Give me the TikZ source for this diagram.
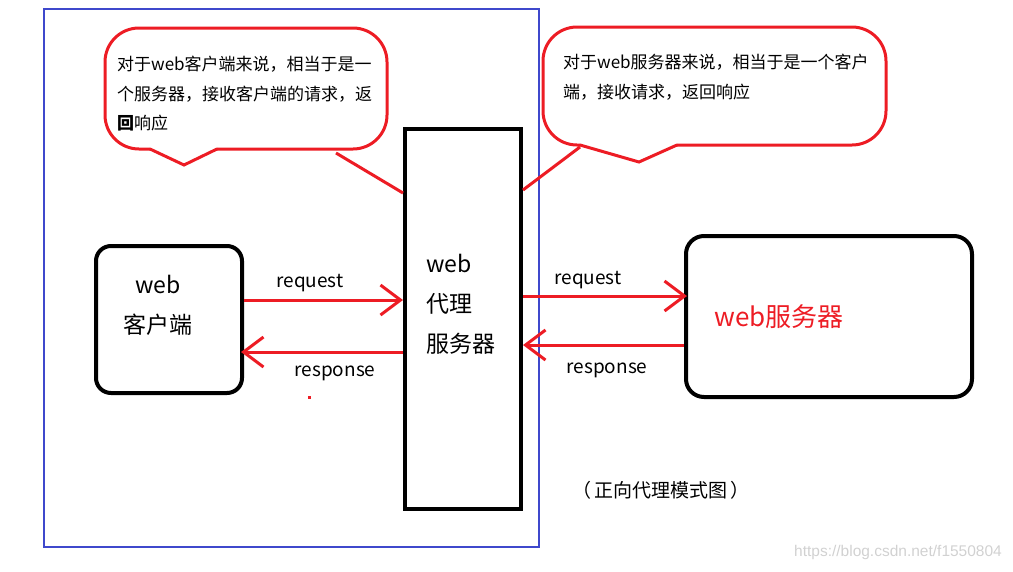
\documentclass[tikz,border=0pt]{standalone}
\usepackage{fontspec}
\setmainfont{Noto Sans CJK SC}
\newfontfamily\wmfont{Liberation Sans}
\usetikzlibrary{arrows.meta}
\definecolor{pred}{HTML}{ED1C24}
\definecolor{pblue}{HTML}{3F48CC}
\tikzset{
  blk/.style={draw=black,line width=4pt},
  bubble/.style={draw=pred,line width=3pt,line join=miter},
  tail/.style={draw=pred,line width=3pt,line join=miter,line cap=round},
  conn/.style={draw=pred,line width=3pt},
  flow/.style={conn,-{Straight Barb[length=20pt,width=30pt,line width=3pt]}},
  lbl/.style={font=\fontsize{19}{22}\selectfont,inner sep=0pt},
  btxt/.style={anchor=north west,inner sep=0pt,align=left,font=\fontsize{17}{29.5}\selectfont},
}
\begin{document}
\begin{tikzpicture}[x=1pt,y=-1pt]
\useasboundingbox (0,0) rectangle (1013,571);
% blue frame
\draw[pblue,line width=2.5pt] (44,9) rectangle (539,547);
% left bubble
\draw[bubble,rounded corners=34pt] (217,149) -- (387,149) -- (387,28) -- (105,28) -- (105,149) -- (150,149);
\draw[tail] (150,149) -- (184,165) -- (217,149);
\node[btxt] (lt) at (117,56)
  {对于web客户端来说，相当于是一\\个服务器，接收客户端的请求，返\\{\bfseries 回}响应};
% right bubble
\draw[bubble,rounded corners=34pt] (677,145) -- (886,145) -- (886,27) -- (543,27) -- (543,145) -- (580,145);
\draw[tail] (580,145) -- (639,162) -- (677,145);
\node[btxt] (rt) at (563,54)
  {对于web服务器来说，相当于是一个客户\\端，接收请求，返回响应};
% boxes
\node[blk,rounded corners=15pt,minimum width=146pt,minimum height=147pt,inner sep=0pt] (client) at (169,319.5) {};
\node[align=center,inner sep=0pt,font=\fontsize{23}{40}\selectfont] (clientt) at (158,305) {web\\客户端};
\node[blk,minimum width=116pt,minimum height=380pt,inner sep=0pt] (proxy) at (463,319) {};
\node[anchor=north west,align=left,inner sep=0pt,font=\fontsize{23}{40}\selectfont] (proxyt) at (426,254) {web\\代理\\服务器};
\node[blk,rounded corners=18pt,minimum width=286pt,minimum height=161pt,inner sep=0pt] (server) at (829,316.5) {};
\node[text=pred,inner sep=0pt,font=\fontsize{26}{30}\selectfont] (servert) at (779,317) {web服务器};
% anchors for connectors
\coordinate (y1) at (0,300);
\coordinate (y2) at (0,352);
\coordinate (y3) at (0,296);
\coordinate (y4) at (0,345);
\draw[flow] (client.east |- y1) -- (proxy.west |- y1);
\draw[flow] (proxy.west |- y2) -- ([xshift=-3pt]client.east |- y2);
\draw[flow] (proxy.east |- y3) -- ([xshift=3pt]server.west |- y3);
\draw[flow] (server.west |- y4) -- (proxy.east |- y4);
\node[lbl] (l1) at (310,283) {request};
\node[lbl] (l2) at (335,373) {response};
\node[lbl] (l3) at (588,280) {request};
\node[lbl] (l4) at (607,370) {response};
\node[fill=pred,inner sep=0pt,minimum size=3pt] (dot) at (309,397) {};
% connector lines from bubbles
\coordinate (b1) at (336,153);
\coordinate (b2) at (580,147);
\draw[conn] (b1) -- (proxy.west |- 0,193);
\draw[conn] (b2) -- (proxy.east |- 0,190);
% caption
\node[inner sep=0pt,font=\fontsize{19}{22}\selectfont] (cap) at (661,490) {（\,正向代理模式图\,）};
\node[inner sep=0pt,text=black!18,font=\wmfont\fontsize{15.5}{18}\selectfont] (wm) at (898,552) {https://blog.csdn.net/f1550804};
\end{tikzpicture}
\end{document}
